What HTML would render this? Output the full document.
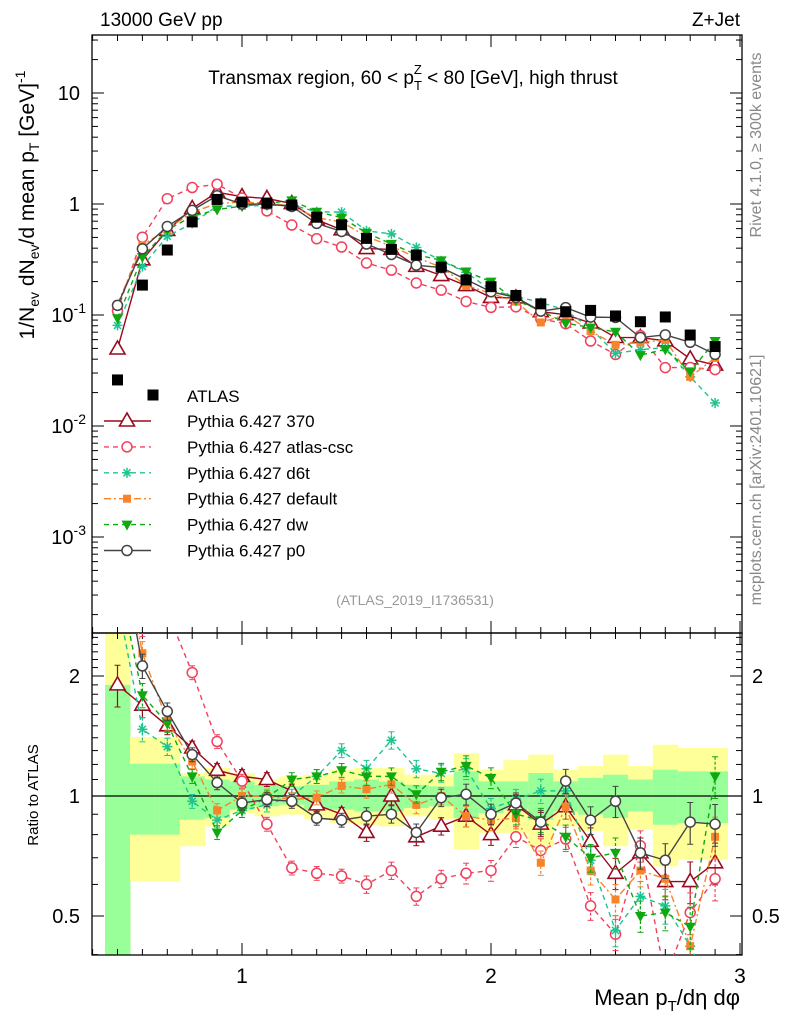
<!DOCTYPE html>
<html><head><meta charset="utf-8"><style>
body{margin:0;background:#fff;}
svg text{font-family:"Liberation Sans",sans-serif;}
</style></head><body>
<svg id="c" width="786" height="1024" xmlns="http://www.w3.org/2000/svg">
<defs>
<clipPath id="cm"><rect x="92" y="35" width="650" height="598"/></clipPath>
<clipPath id="cr"><rect x="92" y="633" width="650" height="322"/></clipPath>
</defs>
<text x="100" y="26" font-size="19">13000 GeV pp</text>
<text x="740" y="26" font-size="19" text-anchor="end">Z+Jet</text>
<text x="413" y="84" font-size="19" text-anchor="middle">Transmax region, 60 &lt; p<tspan font-size="13" dy="6">T</tspan><tspan font-size="13" dx="-8" dy="-16">Z</tspan><tspan dy="10"> &lt; 80 [GeV], high thrust</tspan></text>
<text x="415" y="605" font-size="14" fill="#999" text-anchor="middle">(ATLAS_2019_I1736531)</text>
<text transform="translate(761,145) rotate(-90)" font-size="16" fill="#888" text-anchor="middle">Rivet 4.1.0, ≥ 300k events</text>
<text transform="translate(761,480) rotate(-90)" font-size="16" fill="#888" text-anchor="middle">mcplots.cern.ch [arXiv:2401.10621]</text>
<text transform="translate(34,205) rotate(-90)" font-size="21" text-anchor="middle">1/N<tspan font-size="14" dy="5">ev</tspan><tspan dy="-5"> dN</tspan><tspan font-size="14" dy="5">ev</tspan><tspan dy="-5">/d mean p</tspan><tspan font-size="14" dy="5">T</tspan><tspan dy="-5"> [GeV]</tspan><tspan font-size="14" dy="-9">-1</tspan></text>
<text transform="translate(38,795) rotate(-90)" font-size="15" text-anchor="middle">Ratio to ATLAS</text>
<text x="740" y="1005" font-size="22" text-anchor="end">Mean p<tspan font-size="15" dy="6">T</tspan><tspan dy="-6">/dη dφ</tspan></text>
<g id="bands" clip-path="url(#cr)"></g>
<g id="axes"></g>
<g id="mainS" clip-path="url(#cm)"></g>
<g id="ratS" clip-path="url(#cr)"></g>
<g id="legend"></g>
</svg>
<script>
const xs = [0.5,0.6,0.7,0.8,0.9,1.0,1.1,1.2,1.3,1.4,1.5,1.6,1.7,1.8,1.9,2.0,2.1,2.2,2.3,2.4,2.5,2.6,2.7,2.8,2.9];
const atlas = [0.026,0.186,0.385,0.69,1.1,1.04,1.02,0.98,0.76,0.65,0.49,0.39,0.347,0.27,0.207,0.18,0.15,0.126,0.107,0.11,0.098,0.087,0.096,0.066,0.052];
const r370 = [1.90,1.69,1.50,1.32,1.16,1.12,1.10,1.03,0.95,0.90,0.81,1.0,0.79,0.84,0.89,0.80,0.95,0.85,0.94,0.77,0.64,0.72,0.61,0.61,0.68];
const rCsc = [4.2,2.7,2.9,2.04,1.37,1.09,0.85,0.66,0.64,0.63,0.60,0.65,0.56,0.62,0.64,0.65,0.79,0.73,0.78,0.53,0.45,0.75,0.35,0.51,0.62];
const rD6t = [3.1,1.47,1.33,0.97,0.87,0.92,0.95,1.0,1.12,1.30,1.17,1.38,1.17,1.14,1.17,0.93,0.98,1.03,1.03,0.69,0.46,0.56,0.53,0.42,0.31];
const rDef = [4.8,2.28,1.54,1.22,0.92,1.0,1.0,0.98,0.99,1.06,1.04,1.07,0.95,1.0,0.89,0.87,0.88,0.68,0.94,0.65,0.55,0.65,0.62,0.42,0.79];
const rDw = [3.6,1.79,1.52,1.12,0.81,0.92,0.99,1.10,1.12,1.16,1.12,1.12,1.01,1.15,1.19,1.11,0.90,0.87,0.79,0.70,0.72,0.50,0.51,0.47,1.12];
const rP0 = [4.7,2.12,1.63,1.27,1.08,0.96,0.98,0.97,0.88,0.87,0.89,0.90,0.81,0.99,1.01,0.90,0.96,0.86,1.09,0.87,0.97,0.72,0.69,0.86,0.85];
const relErr = [0.12,0.07,0.05,0.04,0.04,0.04,0.04,0.04,0.04,0.04,0.05,0.05,0.05,0.05,0.06,0.06,0.06,0.07,0.07,0.08,0.09,0.09,0.1,0.12,0.12];
const yelHi = [3,1.406,1.406,1.142,1.175,1.142,1.10,1.12,1.131,1.164,1.175,1.175,1.131,1.131,1.28,1.164,1.23,1.27,1.164,1.19,1.27,1.19,1.345,1.32,1.32];
const yelLo = [0.3,0.611,0.611,0.748,0.839,0.906,0.889,0.898,0.872,0.855,0.847,0.839,0.889,0.872,0.734,0.808,0.808,0.748,0.839,0.816,0.748,0.823,0.666,0.692,0.692];
const grnHi = [1.9,1.205,1.205,1.12,1.10,1.088,1.067,1.057,1.067,1.088,1.10,1.088,1.067,1.057,1.153,1.088,1.088,1.142,1.088,1.11,1.131,1.10,1.164,1.153,1.153];
const grnLo = [0.3,0.80,0.80,0.872,0.881,0.924,0.942,0.951,0.924,0.924,0.915,0.915,0.933,0.942,0.881,0.906,0.924,0.872,0.915,0.898,0.881,0.915,0.847,0.855,0.855];
const mainTicks = [10,1,0.1,0.01,0.001];
const ratioTicks = [0.5,1,2];
const xTicks = [1,2,3];

const NS="http://www.w3.org/2000/svg";
const X = v => 242 + (v-1)*249;
const YM = v => 204 - 111*Math.log10(v);
const YR = v => 796 - 120*Math.log2(v);
function mk(tag, attrs, parent){const e=document.createElementNS(NS,tag);for(const k in attrs)e.setAttribute(k,attrs[k]);parent.appendChild(e);return e;}
const axes=document.getElementById('axes');

const bands=document.getElementById('bands');
xs.forEach((x,i)=>{
  const y=mk('rect',{x:X(x-0.05),y:YR(yelHi[i]),width:249*0.1+0.5,height:YR(yelLo[i])-YR(yelHi[i]),fill:'#ffff99'},bands);
  
  
  const g=mk('rect',{x:X(x-0.05),y:YR(grnHi[i]),width:249*0.1+0.5,height:YR(grnLo[i])-YR(grnHi[i]),fill:'#99ff99'},bands);
  
  
});

[[35,633],[633,955]].forEach(([t,b],pi)=>{
  const f=mk('rect',{x:92,y:t,width:650,height:b-t,fill:'none',stroke:'#000','stroke-width':1.3},axes);
  
  
  for(let v=0.4;v<=3.001;v+=0.1){
    const maj=Math.abs(v-Math.round(v))<0.01;
    const L=maj?12:6;
    mk('line',{x1:X(v),x2:X(v),y1:t,y2:t+L,stroke:'#000'},axes);
    mk('line',{x1:X(v),x2:X(v),y1:b,y2:b-L,stroke:'#000'},axes);
  }
});
xTicks.forEach(v=>{
  const t=mk('text',{x:X(v),y:983,'font-size':21,'text-anchor':'middle'},axes);
  t.textContent=v;
  
  
});
for(let d=-4;d<=1;d++){
  for(let m=1;m<10;m++){
    const v=m*Math.pow(10,d);const y=YM(v);
    if(y<35||y>633)continue;
    const L=m===1?12:6;
    mk('line',{x1:92,x2:92+L,y1:y,y2:y,stroke:'#000'},axes);
    mk('line',{x1:742,x2:742-L,y1:y,y2:y,stroke:'#000'},axes);
  }
}
mainTicks.forEach(v=>{
  const y=YM(v);
  const t=mk('text',{x:80,y:y+7,'font-size':20,'text-anchor':'end'},axes);
  
  
  if(v>=1)t.textContent=v;
  else{const e=Math.round(Math.log10(v));t.innerHTML='10<tspan font-size="14" dy="-9">'+e+'</tspan>';t.setAttribute('x',86);}
});
[0.4,0.5,0.6,0.7,0.8,0.9,1,2].forEach(v=>{
  const y=YR(v);const maj=(v===0.5||v===1||v===2);const L=maj?12:6;
  mk('line',{x1:92,x2:92+L,y1:y,y2:y,stroke:'#000'},axes);
  mk('line',{x1:742,x2:742-L,y1:y,y2:y,stroke:'#000'},axes);
});
for(let v=1.1;v<2.55;v+=0.1){const y=YR(v);mk('line',{x1:92,x2:98,y1:y,y2:y,stroke:'#000'},axes);mk('line',{x1:742,x2:736,y1:y,y2:y,stroke:'#000'},axes);}
ratioTicks.forEach(v=>{
  const y=YR(v);
  const t=mk('text',{x:80,y:y+7,'font-size':20,'text-anchor':'end'},axes);t.textContent=v;
  
  
  const t2=mk('text',{x:752,y:y+7,'font-size':20},axes);t2.textContent=v;
  
  
});
const one=mk('line',{x1:92,x2:742,y1:YR(1),y2:YR(1),stroke:'#000','stroke-width':1.3},axes);



function marker(type,color,cx,cy,parent){
  const s=5.5;
  if(type==='sq')return mk('rect',{x:cx-s,y:cy-s,width:2*s,height:2*s,fill:color},parent);
  if(type==='sqs')return mk('rect',{x:cx-4,y:cy-4,width:8,height:8,fill:color},parent);
  if(type==='tri')return mk('polygon',{points:`${cx},${cy-8} ${cx-7.5},${cy+5} ${cx+7.5},${cy+5}`,fill:'#fff',stroke:color,'stroke-width':1.6},parent);
  if(type==='tdn')return mk('polygon',{points:`${cx},${cy+6} ${cx-5.5},${cy-4} ${cx+5.5},${cy-4}`,fill:color},parent);
  if(type==='circ')return mk('circle',{cx:cx,cy:cy,r:5,fill:'#fff',stroke:color,'stroke-width':1.5},parent);
  if(type==='star'){const g=mk('g',{stroke:color,'stroke-width':1.5},parent);
    for(let a=0;a<4;a++){const an=a*Math.PI/4;mk('line',{x1:cx-5*Math.cos(an),y1:cy-5*Math.sin(an),x2:cx+5*Math.cos(an),y2:cy+5*Math.sin(an)},g);}return g;}
}
const series=[
  {name:'Pythia 6.427 370',key:'370',r:r370,color:'#990a1e',m:'tri',dash:''},
  {name:'Pythia 6.427 atlas-csc',key:'atlas-csc',r:rCsc,color:'#f2405c',m:'circ',dash:'5,4'},
  {name:'Pythia 6.427 d6t',key:'d6t',r:rD6t,color:'#1ec490',m:'star',dash:'5,4'},
  {name:'Pythia 6.427 default',key:'default',r:rDef,color:'#f7842a',m:'sqs',dash:'7,3,2,3'},
  {name:'Pythia 6.427 dw',key:'dw',r:rDw,color:'#10a810',m:'tdn',dash:'5,4'},
  {name:'Pythia 6.427 p0',key:'p0',r:rP0,color:'#444444',m:'circ',dash:''}
];
const mainS=document.getElementById('mainS'),ratS=document.getElementById('ratS');
series.forEach(s=>{
  const gm=mk('g',{},mainS);
  const gr=mk('g',{},ratS);
  const pm=xs.map((x,i)=>X(x)+','+YM(atlas[i]*s.r[i])).join(' ');
  const pr=xs.map((x,i)=>X(x)+','+YR(s.r[i])).join(' ');
  const lm=mk('polyline',{points:pm,fill:'none',stroke:s.color,'stroke-width':1.4,'stroke-dasharray':s.dash},gm);
  
  const lr=mk('polyline',{points:pr,fill:'none',stroke:s.color,'stroke-width':1.4,'stroke-dasharray':s.dash},gr);
  
  xs.forEach((x,i)=>{
    const v=s.r[i],e=v*relErr[i];
    const eb=mk('line',{x1:X(x),x2:X(x),y1:YR(v+e),y2:YR(Math.max(v-e,0.05)),stroke:s.color,'stroke-width':1.2,'stroke-dasharray':s.dash?'3,2':''},gr);
    
    mk('line',{x1:X(x)-3,x2:X(x)+3,y1:YR(v+e),y2:YR(v+e),stroke:s.color},gr);
    mk('line',{x1:X(x)-3,x2:X(x)+3,y1:YR(v-e),y2:YR(v-e),stroke:s.color},gr);
    const p=marker(s.m,s.color,X(x),YM(atlas[i]*v),gm);
    
    const q=marker(s.m,s.color,X(x),YR(v),gr);
    
  });
});
xs.forEach((x,i)=>{
  const p=marker('sq','#000',X(x),YM(atlas[i]),mainS);
  
  
});
const lg=document.getElementById('legend');
const ya=mk('g',{},lg);
marker('sq','#000',153,395,ya);
const ta=mk('text',{x:187,y:402,'font-size':17},ya);ta.textContent='ATLAS';
series.forEach((s,i)=>{
  const y=421+i*25.9;
  const g=mk('g',{},lg);
  mk('line',{x1:104,x2:151,y1:y,y2:y,stroke:s.color,'stroke-width':1.4,'stroke-dasharray':s.dash},g);
  marker(s.m,s.color,127,y,g);
  const t=mk('text',{x:187,y:y+6,'font-size':17},g);t.textContent=s.name;
});
</script>
</body></html>
